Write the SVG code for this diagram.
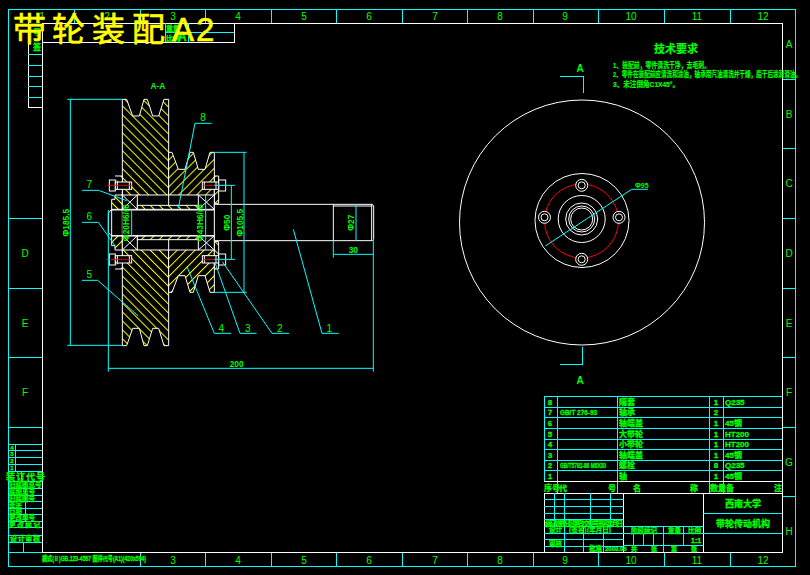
<svg xmlns="http://www.w3.org/2000/svg" xmlns:xlink="http://www.w3.org/1999/xlink" width="810" height="575" viewBox="0 0 810 575">
<style>
.c{stroke:#0ff;fill:none;stroke-width:1}
.w{stroke:#fff;fill:none;stroke-width:1}
.r{stroke:#f00;fill:none;stroke-width:1}
.crisp{shape-rendering:crispEdges}
.g{fill:#0f0;font-family:"Liberation Sans","Noto Sans CJK SC",sans-serif}
.n{font-size:10px;text-anchor:middle}
.t{font-size:8px;font-weight:bold;stroke:#0f0;stroke-width:.3}
.m{text-anchor:middle}
.zc{stroke:#0ff;fill:none;stroke-width:3}
.zw{stroke:#fff;fill:none;stroke-width:3}
.zr{stroke:#f00;fill:none;stroke-width:2.5}
.zn{fill:#0f0;font-family:"Liberation Sans",sans-serif;font-size:30px;text-anchor:middle}
.zd{fill:#0f0;font-family:"Liberation Sans",sans-serif;font-size:25px;font-weight:bold;text-anchor:middle}
</style>
<defs>
<pattern id="h1" width="19" height="19" patternUnits="userSpaceOnUse" patternTransform="rotate(-45)"><rect width="19" height="19" fill="#000"/><rect width="3" height="19" fill="#ff0"/></pattern>
<pattern id="h2" width="19" height="19" patternUnits="userSpaceOnUse" patternTransform="rotate(45)"><rect width="19" height="19" fill="#000"/><rect width="3" height="19" fill="#ff0"/></pattern>
<g id="half">
<path d="M165 288H187V345H165V358H155V388H187V345" fill="url(#h1)" stroke="#fff" stroke-width="3"/>
<path d="M463 288H476V370H463Z" fill="url(#h2)" stroke="#fff" stroke-width="3"/>
<rect x="148" y="300" width="18" height="33" fill="#000" stroke="#fff" stroke-width="3"/>
<rect x="166" y="306" width="49" height="22" fill="#000" stroke="#fff" stroke-width="3"/>
<path d="M172 306V328M208 306V328" class="zw"/>
<path d="M140 316H215" class="zr"/>
<rect x="476" y="300" width="21" height="33" fill="#000" stroke="#fff" stroke-width="3"/>
<rect x="427" y="306" width="49" height="22" fill="#000" stroke="#fff" stroke-width="3"/>
<path d="M433 306V328M468 306V328" class="zw"/>
<path d="M430 316H497" class="zr"/>
<rect x="187" y="345" width="45" height="43" fill="#000" stroke="#fff" stroke-width="3"/>
<path d="M187 345L232 388M232 345L187 388" class="zw"/>
<rect x="415" y="345" width="48" height="43" fill="#000" stroke="#fff" stroke-width="3"/>
<path d="M415 345L463 388M463 345L415 388" class="zw"/>
<rect x="232" y="376" width="183" height="12" fill="url(#h1)" stroke="#fff" stroke-width="3"/>
<path d="M232 345H415M326 345V376" class="zw"/>
</g>
</defs>
<rect width="810" height="575" fill="#000"/>

<g id="frame" class="crisp">
<rect x="8.500" y="9.500" width="787" height="557" class="c"/>
<rect x="42.500" y="23.500" width="740" height="529" class="w"/>
<path d="M74.500 9.500V23M140.500 9.500V23M205.500 9.500V23M271.500 9.500V23M336.500 9.500V23M402.500 9.500V23M467.500 9.500V23M533.500 9.500V23M598.500 9.500V23M664.500 9.500V23M730.500 9.500V23" class="c"/>
<path d="M140.500 553V566M205.500 553V566M271.500 553V566M336.500 553V566M402.500 553V566M467.500 553V566M533.500 553V566M598.500 553V566M664.500 553V566M730.500 553V566" class="c"/>
<path d="M783 79.500H795M783 148.500H795M783 218.500H795M783 288.500H795M783 357.500H795M783 427.500H795M783 496.500H795" class="c"/>
<path d="M8 218.500H42M8 288.500H42M8 357.500H42M8 427.500H42" class="c"/>
</g>
<g id="frame-labels" class="g n">
<text x="42" y="20">1</text><text x="107" y="20">2</text><text x="173" y="20">3</text><text x="238" y="20">4</text><text x="304" y="20">5</text><text x="369" y="20">6</text><text x="435" y="20">7</text><text x="500" y="20">8</text><text x="565" y="20">9</text><text x="631" y="20">10</text><text x="697" y="20">11</text><text x="763" y="20">12</text>
<text x="173" y="564">3</text><text x="238" y="564">4</text><text x="304" y="564">5</text><text x="369" y="564">6</text><text x="435" y="564">7</text><text x="500" y="564">8</text><text x="565" y="564">9</text><text x="631" y="564">10</text><text x="697" y="564">11</text><text x="763" y="564">12</text>
<text x="789" y="48">A</text><text x="789" y="118">B</text><text x="789" y="187">C</text><text x="789" y="257">D</text><text x="789" y="327">E</text><text x="789" y="396">F</text><text x="789" y="466">G</text><text x="789" y="535">H</text>
<text x="25" y="257">D</text><text x="25" y="327">E</text><text x="25" y="396">F</text>
</g>

<g id="top-left-box" class="crisp">
<path d="M28.500 23V107.500H42" class="w"/>
<path d="M42 42.500H234.500V23" class="w"/>
<path d="M28 54.500H42M28 65.500H42M28 76.500H42M28 86.500H42M28 97.500H42" class="c"/>
<path d="M165.500 23V42M188.500 23V42M165 32.500H234" class="c"/>
</g>
<g id="top-left-text" class="g t">
<text x="33" y="35">号</text><text x="33" y="50">签</text>
<text x="166" y="31" font-size="7">重量</text><text x="166" y="41" font-size="7">比例</text><text x="178" y="41" font-size="12">A</text>
</g>

<g id="title-overlay">
<text x="13 52 92 132 172 196" y="41" font-size="33" fill="#ff0" stroke="#ff0" stroke-width=".6" font-family="'Liberation Sans','Noto Sans CJK SC',sans-serif">带轮装配A2</text>
</g>

<g id="section-view" transform="translate(60 80) scale(.33333)">
<path d="M187 58H200L218 108H238L252 58H262L278 108H296L312 58H326V797H312L296 745H278L262 797H252L238 745H218L200 797H187Z" fill="url(#h1)" stroke="#fff" stroke-width="3"/>
<path d="M326 217H336L355 268H375L390 217H400L415 268H435L450 217H463V637H450L435 587H415L400 637H390L375 587H355L336 637H326Z" fill="url(#h2)" stroke="#fff" stroke-width="3"/>
<rect x="187" y="345" width="276" height="165" fill="#000"/>
<use xlink:href="#half" href="#half"/>
<use xlink:href="#half" href="#half" transform="translate(0 855) scale(1 -1)"/>
<path d="M145 400L153 390H463M145 400V458L155 468H463M155 388V468" class="zw"/>
<path d="M463 373H937L941 378V478L937 482H463ZM820 373V482M820 378H937M935 373V482" fill="#000" stroke="#fff" stroke-width="3"/>
</g>

<g id="connectors" transform="translate(60 80) scale(.33333)">
<path d="M455 130H405L355 385M66 331H116L200 362M66 427H115L165 497M66 601H113L235 708M513 760H463L381 560M590 760H540L465 548M687 760H636L487 545M836 760H786L700 448" class="zc"/>
<path d="M22 58H187M22 796H187M31 58V796M145 390V875M940 480V875M145 865H940M463 217H560M463 637H560M552 217V637M463 316H525M463 538H525M514 316V538M888 373V482M820 482V533M820 523H940M215 388V468M437 345V510" class="zc"/>
</g>
<g id="section-labels" transform="translate(60 80) scale(.33333)">
<text class="zn" x="429" y="124">8</text><text class="zn" x="88" y="324">7</text><text class="zn" x="88" y="421">6</text><text class="zn" x="88" y="593">5</text><text class="zn" x="484" y="755">4</text><text class="zn" x="563" y="755">3</text><text class="zn" x="659" y="755">2</text><text class="zn" x="808" y="755">1</text>
<text class="zd" x="294" y="28">A-A</text>
<text class="zd" x="530" y="862">200</text>
<text class="zd" x="880" y="519">30</text>
<text class="zd" transform="translate(27 428) rotate(-90)">Φ185.5</text>
<text class="zd" transform="translate(548 428) rotate(-90)">Φ105.5</text>
<text class="zd" transform="translate(509 428) rotate(-90)">Φ50</text>
<text class="zd" transform="translate(883 428) rotate(-90)">Φ27</text>
<text class="zd" transform="translate(207 428) rotate(-90)" font-size="22">Φ20H6/r6</text>
<text class="zd" transform="translate(428 428) rotate(-90)" font-size="22">Φ43H6/r6</text>
</g>

<g id="front-view">
<circle cx="582" cy="222.500" r="122.500" class="w"/>
<circle cx="582" cy="220.500" r="47" class="w"/>
<circle cx="581.500" cy="221" r="37" class="r"/>
<circle cx="581.700" cy="219" r="23.500" class="w"/>
<circle cx="581.700" cy="219" r="16" class="w"/>
<circle cx="581.700" cy="219" r="13" class="w"/>
<circle cx="581.700" cy="219" r="11" class="w"/>
<g fill="#000" stroke="#fff">
<circle cx="581.700" cy="185.300" r="6"/><circle cx="581.700" cy="185.300" r="3.500"/>
<circle cx="581.700" cy="259.300" r="6"/><circle cx="581.700" cy="259.300" r="3.500"/>
<circle cx="544.500" cy="217.300" r="6"/><circle cx="544.500" cy="217.300" r="3.500"/>
<circle cx="619" cy="217.300" r="6"/><circle cx="619" cy="217.300" r="3.500"/>
</g>
<path d="M545.300 246L631.700 189.300H648" class="c"/>
<text x="635" y="188" class="g" font-size="7" font-weight="bold">Φ95</text>
<path d="M560 76.500H583.500V93M560 364.500H582.500V347" class="c crisp"/>
<text x="580" y="72" class="g n" font-weight="bold">A</text>
<text x="580" y="384" class="g n" font-weight="bold">A</text>
</g>

<g id="technical-notes" class="g" font-weight="bold" stroke="#0f0" stroke-width=".2">
<text x="676" y="53" font-size="11" class="m">技术要求</text>
<text x="613" y="68" font-size="8" textLength="97" lengthAdjust="spacingAndGlyphs">1、装配前，零件清洗干净，去毛刺。</text>
<text x="613" y="77" font-size="8" textLength="188" lengthAdjust="spacingAndGlyphs">2、零件在装配前应清洗和涂油，轴承用汽油清洗并干燥，脂干后涂润滑油。</text>
<text x="613" y="87" font-size="8" textLength="66" lengthAdjust="spacingAndGlyphs">3、未注倒角C1X45°。</text>
</g>

<g id="parts-list" class="crisp">
<path d="M544 396.500H782M544 407.500H782M544 417.500H782M544 428.500H782M544 439.500H782M544 449.500H782M544 460.500H782M544 470.500H782" class="c"/>
<path d="M544.500 396V481M557.500 396V493M617.500 396V493M709.500 396V493M723.500 396V493" class="c"/>
<path d="M544 481.500H782M544 493.500H782" class="w"/>
</g>
<g id="parts-text" class="g t">
<g class="m"><text x="550" y="405">8</text><text x="550" y="415">7</text><text x="550" y="426">6</text><text x="550" y="437">5</text><text x="550" y="447">4</text><text x="550" y="458">3</text><text x="550" y="468">2</text><text x="550" y="479">1</text>
<text x="716" y="405">1</text><text x="716" y="415">2</text><text x="716" y="426">1</text><text x="716" y="437">1</text><text x="716" y="447">1</text><text x="716" y="458">1</text><text x="716" y="468">8</text><text x="716" y="479">1</text></g>
<text x="560" y="415" font-size="7" textLength="37" lengthAdjust="spacingAndGlyphs">GB/T 276-93</text>
<text x="560" y="468" font-size="7" textLength="46" lengthAdjust="spacingAndGlyphs">GB/T5782-86 M6X30</text>
<text x="619" y="405">隔套</text><text x="619" y="415">轴承</text><text x="619" y="426">轴端盖</text><text x="619" y="437">大带轮</text><text x="619" y="447">小带轮</text><text x="619" y="458">轴端盖</text><text x="619" y="468">螺栓</text><text x="619" y="479">轴</text>
<text x="725" y="405">Q235</text><text x="725" y="426">45钢</text><text x="725" y="437">HT200</text><text x="725" y="447">HT200</text><text x="725" y="458">45钢</text><text x="725" y="468">Q235</text><text x="725" y="479">45钢</text>
<text x="544" y="491">序号</text><text x="559" y="491">代</text><text x="608" y="491">号</text><text x="633" y="491">名</text><text x="690" y="491">称</text><text x="710" y="491">数量</text><text x="726" y="491">备</text><text x="774" y="491">注</text>
</g>

<g id="title-block" class="crisp">
<path d="M544.500 493V552M623.500 493V552M703.500 493V552" class="w"/>
<path d="M544 499.500H623M544 506.500H623M544 513.500H623M544 519.500H623M544 526.500H703M544 533.500H782M544 539.500H623M544 546.500H623M623 545.500H703M703 513.500H782" class="c"/>
<path d="M554.500 493V526M564.500 493V552M590.500 493V526M610.500 493V526M583.500 526V552M603.500 526V552M663.500 526V552M683.500 526V545M633.500 534V545M643.500 534V545M653.500 534V545" class="c"/>
</g>
<g id="title-text" class="g t">
<text x="743" y="507" class="m" font-size="9">西南大学</text>
<text x="743" y="527" class="m" font-size="9">带轮传动机构</text>
<text x="545" y="526" font-size="6.500" textLength="78" lengthAdjust="spacing">标记处数分区更改文件号 签名 年月日</text>
<text x="549" y="532" font-size="6.500">设计</text><text x="569" y="532" font-size="6.500">(签名)</text><text x="587" y="532" font-size="6.500">(年月日)</text>
<text x="549" y="546" font-size="6.500">审核</text><text x="589" y="551" font-size="6.500">批准</text><text x="605" y="551" font-size="6">2009.05</text>
<text x="631" y="533" font-size="6.500">阶段标记</text><text x="668" y="533" font-size="6.500">重量</text><text x="688" y="533" font-size="6.500">比例</text>
<text x="691" y="543" font-size="7">1:1</text>
<text x="631" y="551" font-size="6">共</text><text x="651" y="551" font-size="6">张</text><text x="671" y="551" font-size="6">第</text><text x="691" y="551" font-size="6">张</text>
</g>

<g id="left-strip" class="crisp">
<path d="M8 444.500H42M8 450.500H42M8 457.500H42M8 464.500H42M8 471.500H42M8 481.500H42M8 488.500H42M8 495.500H42M8 501.500H42M8 508.500H42M8 514.500H42M8 521.500H42M8 527.500H42M8 535.500H42M8 542.500H42M8 552.500H42" class="c"/>
<path d="M15.500 444V471M23.500 542V552M25.500 481V521M21.500 471V481" class="c"/>
</g>
<g id="left-strip-text" class="g t">
<text x="12" y="450" class="m" font-size="6">4</text><text x="12" y="456" class="m" font-size="6">3</text><text x="12" y="463" class="m" font-size="6">2</text><text x="12" y="470" class="m" font-size="6">1</text>
<text x="6" y="480" font-size="9" textLength="39" lengthAdjust="spacing">装订代号</text>
<text x="9" y="487" font-size="6.500">旧底图总号</text><text x="9" y="494" font-size="6.500">底图总号</text><text x="9" y="501" font-size="6.500">旧底图号</text><text x="9" y="507" font-size="6.500">签字</text><text x="9" y="513" font-size="6.500">日期</text><text x="9" y="520" font-size="6.500">更改单号</text>
<text x="9" y="527" font-size="6.500" textLength="31" lengthAdjust="spacing">更改标记</text>
<text x="10" y="541" font-size="7" textLength="30" lengthAdjust="spacing">设计审核</text>
</g>
<g id="bottom-note" class="g t">
<text x="42" y="561" font-size="6.500" textLength="104" lengthAdjust="spacingAndGlyphs">模式(Ⅱ)GB.123-4567 图样代号(A1)(420x594)</text>
</g>
</svg>
